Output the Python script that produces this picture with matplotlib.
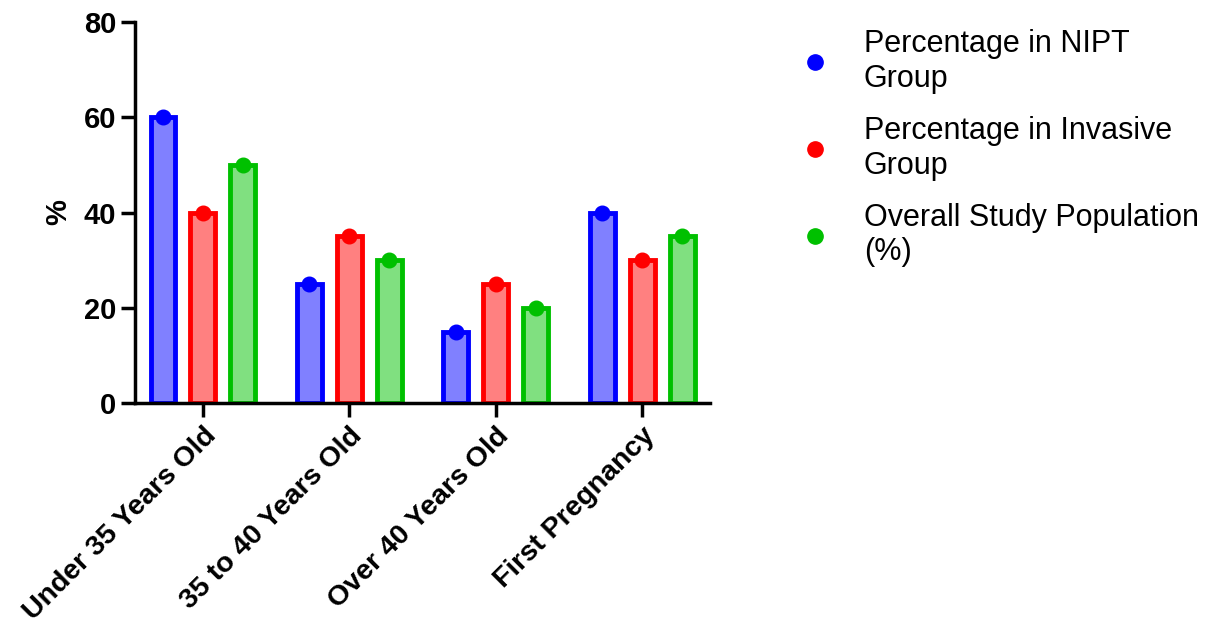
import numpy as np
import matplotlib.pyplot as plt
from matplotlib.lines import Line2D

plt.rcParams['font.family'] = ['Liberation Sans', 'DejaVu Sans']

categories = ["Under 35 Years Old", "35 to 40 Years Old", "Over 40 Years Old", "First Pregnancy"]
nipt = [60, 25, 15, 40]
invasive = [40, 35, 25, 30]
overall = [50, 30, 20, 35]
series_names = ["Percentage in NIPT\nGroup", "Percentage in Invasive\nGroup", "Overall Study Population\n(%)"]
edge_colors = ["#0000FF", "#FF0000", "#00C000"]
fill_colors = ["#8080FF", "#FF8080", "#80E080"]

fig = plt.figure(figsize=(12.1, 6.25), dpi=100)
ax = fig.add_axes([0.1116, 0.355, 0.4752, 0.61])

x = np.arange(len(categories))
offset = 0.272
width = 0.17
for i, vals in enumerate([nipt, invasive, overall]):
    pos = x + (i - 1) * offset
    ax.bar(pos, vals, width=width, color=fill_colors[i], edgecolor=edge_colors[i],
           linewidth=3.5, zorder=2)
    ax.plot(pos, vals, 'o', color=edge_colors[i], markersize=10.5, zorder=3)

ax.set_xlim(-0.463, 3.463)
ax.set_ylim(0, 80)
ax.set_yticks([0, 20, 40, 60, 80])
ax.set_xticks(x)
ax.set_xticklabels(categories, rotation=45, ha='right', rotation_mode='anchor',
                   fontsize=20.5, fontweight='bold')
for lab in ax.get_yticklabels():
    lab.set_fontsize(21)
    lab.set_fontweight('bold')
ax.set_ylabel('%', fontsize=21, fontweight='bold', labelpad=8)

for s in ['top', 'right']:
    ax.spines[s].set_visible(False)
for s in ['left', 'bottom']:
    ax.spines[s].set_linewidth(2.5)
ax.tick_params(axis='both', width=2.5, length=10, direction='out')
ax.tick_params(axis='x', pad=4)

handles = [Line2D([], [], marker='o', linestyle='none', color=c, markersize=11)
           for c in edge_colors]
fig.legend(handles, series_names, loc='upper left', bbox_to_anchor=(0.638, 0.997),
           frameon=False, fontsize=22, handletextpad=1.1, labelspacing=0.72,
           handlelength=1.0)

fig.savefig("out.png", dpi=100)
